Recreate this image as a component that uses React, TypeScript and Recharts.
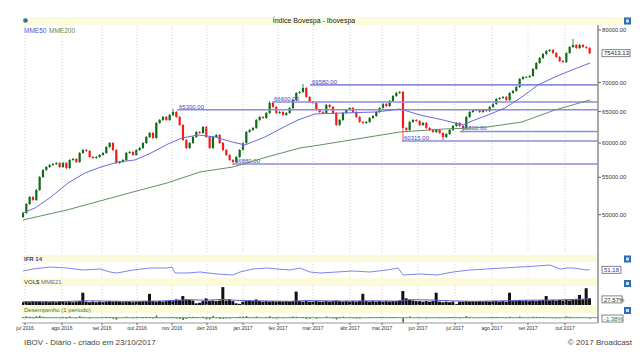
import React from "react";
import {
  ComposedChart,
  Bar,
  Line,
  XAxis,
  YAxis,
  ReferenceLine,
} from "recharts";

// candle closes, roughly two trading days per candle (jul 2016 -> 23/10/2017)
const firstOpen = 49700;
const closes = [
  50221, 51383, 52307, 51909, 53247, 55037, 56026, 56455, 56743, 56887,
  57032, 56455, 57032, 56311, 57470, 57616, 57178, 58504, 58952, 58802,
  57910, 57763, 57910, 58206, 58504, 59403, 60010, 58952, 57032, 57178,
  57470, 58504, 58653, 58206, 58952, 59252, 60010, 60935, 61558, 60780,
  63146, 63630, 64118, 63630, 64445, 64938, 64118, 62825, 60471, 59252,
  60010, 60935, 61715, 61558, 62506, 60935, 59252, 60935, 61246, 60010,
  58952, 58206, 57470, 57178, 57910, 58952, 60010, 61715, 62030, 62347,
  63630, 64118, 63955, 64773, 66443, 65770, 64773, 64938, 64445, 64773,
  65603, 66952, 68155, 68329, 69028, 67466, 66612, 66443, 65269, 64938,
  64773, 66105, 65770, 64773, 62825, 63630, 64773, 65269, 65603, 64938,
  64118, 63307, 63146, 63307, 63955, 64281, 64938, 65603, 66274, 65937,
  66782, 67638, 68155, 68329, 62347, 62030, 63307, 63630, 63468, 62825,
  63146, 62347, 62030, 61715, 62030, 61558, 60935, 61402, 62030, 62665,
  63146, 62665, 62347, 64118, 64938, 65269, 65269, 64938, 65269, 65104,
  65770, 66274, 67123, 67294, 67466, 66952, 68155, 68503, 69204, 70626,
  70986, 70986, 71167, 72445, 73559, 74501, 75262, 75839, 76032, 75454,
  74690, 73934, 73746, 75454, 76614, 77005, 76420, 77005, 76614, 76420,
  75413.13,
];

// notable wicks
const lowIdx = [63, 114, 126, 132];
const lowVals = [56880, 60315, 60550, 61800];
const highIdx = [45, 74, 84, 165];
const highVals = [65300, 66600, 69580, 77990];

const volumes = [
  5, 6, 5, 7, 6, 6, 5, 6, 5, 6,
  5, 6, 6, 5, 6, 5, 6, 7, 22, 6,
  5, 6, 5, 6, 5, 6, 7, 6, 7, 6,
  5, 6, 6, 5, 6, 6, 7, 7, 20, 7,
  6, 7, 6, 7, 8, 9, 10, 9, 16, 10,
  9, 8, 3, 4, 7, 12, 7, 8, 7, 8,
  32, 8, 10, 7, 3, 2, 6, 7, 8, 7,
  10, 7, 6, 7, 6, 7, 6, 7, 6, 7,
  6, 7, 24, 7, 6, 7, 6, 6, 7, 6,
  6, 7, 6, 7, 8, 7, 6, 7, 6, 7,
  6, 7, 20, 7, 6, 7, 6, 7, 6, 7,
  6, 7, 7, 8, 25, 12, 9, 8, 7, 7,
  6, 7, 6, 7, 22, 6, 5, 6, 5, 6,
  2, 6, 6, 7, 6, 7, 6, 7, 6, 7,
  6, 7, 7, 6, 7, 6, 22, 7, 7, 8,
  7, 8, 7, 8, 7, 8, 9, 16, 8, 9,
  8, 9, 8, 9, 8, 9, 10, 18, 10, 30,
  12,
];

const ma50Idx = [0, 3.6, 8.4, 13.5, 18.6, 23.4, 28.5, 33.6, 38.4, 43.5, 47.7, 52.5, 57.6, 62.7, 66.6, 72.6, 77.7, 82.5, 87.6, 96, 106.2, 113.1, 116.1, 119.1, 126, 132, 134.7, 139.5, 144.6, 149.7, 154.5, 159.6, 164.7, 170.1];
const ma50Val = [50221, 50863, 52307, 54204, 55598, 56455, 57178, 57470, 58504, 59858, 60780, 61246, 60935, 60163, 59706, 60935, 62347, 63630, 64609, 64773, 64938, 65436, 64938, 64445, 63630, 62825, 63468, 64445, 65603, 67466, 69557, 70986, 72261, 73559];

const ma200Idx = [0, 13.2, 33, 43.2, 53.1, 63, 73.2, 83.1, 89.1, 113.1, 126.6, 134.7, 139.5, 149.7, 159.6, 170.1];
const ma200Val = [49334, 50605, 52976, 54204, 55740, 56455, 57910, 59252, 59706, 61715, 62189, 62347, 62506, 63307, 65269, 66952];

const ifrIdx = [0, 3, 8.1, 13.2, 18, 23.1, 26.1, 28.2, 33, 38.1, 43.2, 44.7, 45.6, 49.2, 53.1, 58.2, 63, 65.1, 69, 73.2, 76.2, 80.1, 83.1, 86.1, 89.1, 94.2, 99, 104.1, 109.2, 112.5, 114, 119.1, 124.2, 129, 134.1, 139.2, 144, 149.1, 154.2, 158.1, 161.1, 163.2, 165, 169.2, 170];
const ifrVal = [46, 54.7, 63.3, 59, 50.3, 54.7, 41.7, 37.3, 50.3, 59, 59, 63.3, 37.3, 37.3, 41.7, 33, 28.7, 41.7, 54.7, 59, 54.7, 50.3, 59, 41.7, 37.3, 41.7, 46, 41.7, 50.3, 59, 28.7, 33, 28.7, 41.7, 50.3, 54.7, 59, 63.3, 67.7, 72, 54.7, 59, 59, 50.3, 51.18];

const volMaIdx = [0, 10, 20, 30, 40, 45, 50, 55, 60, 65, 70, 80, 85, 95, 105, 112, 116, 122, 128, 135, 145, 150, 160, 170];
const volMaVal = [6, 6, 7.5, 6.5, 7, 8, 9.5, 8.5, 10, 8, 7.5, 6.5, 8, 7, 7.5, 7, 9.5, 9, 7.5, 6.5, 7.5, 8.5, 9, 11];

const levelValues = [65300, 66600, 69580, 56880, 60315, 61800];
const levelStart = [46.2, 74.7, 86.1, 63, 113.7, 131];

const monthLabels = ["jul 2016", "ago 2016", "set 2016", "out 2016", "nov 2016", "dez 2016", "jan 2017", "fev 2017", "mar 2017", "abr 2017", "mai 2017", "jun 2017", "jul 2017", "ago 2017", "set 2017", "out 2017"];
const monthIdx = [0.6, 11.7, 23.7, 34.2, 44.7, 55.2, 66, 76.5, 87, 98.1, 107.7, 118.5, 129.6, 140.7, 151.5, 162.6];

const priceTicks = [50000, 55000, 60000, 65000, 70000, 80000];
const lastIfr = 51.18;
const volBoxText = "27.57%";
const lastPerf = -1.38;

const FONT = "Liberation Sans, Arial, sans-serif";
const X_DOMAIN: [number, number] = [-0.3, 172.5];
const MARGIN = { top: 0, right: 0, bottom: 0, left: 22 };
const GRID = "#c8c8c8";

const candles = closes.map((c, i) => {
  const o = i === 0 ? firstOpen : closes[i - 1];
  const li = lowIdx.indexOf(i);
  const hi = highIdx.indexOf(i);
  const lo = Math.min(o, c, li >= 0 ? lowVals[li] : Infinity);
  const h = Math.max(o, c, hi >= 0 ? highVals[hi] : -Infinity);
  return { i, o, c, lo, hi: h, range: [lo, h], vol: volumes[i], perf: ((c - o) / o) * 100 };
});
const ma50 = ma50Idx.map((i, k) => ({ i, v: ma50Val[k] }));
const ma200 = ma200Idx.map((i, k) => ({ i, v: ma200Val[k] }));
const ifr = ifrIdx.map((i, k) => ({ i, v: ifrVal[k] }));
const volMa = volMaIdx.map((i, k) => ({ i, v: volMaVal[k] }));

const Candle = (props: any) => {
  const { x, y, width, height, payload } = props;
  if (x == null || y == null || !payload) return null;
  const { o, c, lo, hi } = payload;
  const up = c >= o;
  const color = up ? "#0d6b16" : "#f21c1c";
  const cx = x + width / 2;
  const span = Math.log(hi) - Math.log(lo);
  const py = (v: number) => (span > 0 ? y + (height * (Math.log(hi) - Math.log(v))) / span : y);
  const top = py(Math.max(o, c));
  const bot = py(Math.min(o, c));
  return (
    <g>
      <line x1={cx} x2={cx} y1={y - 1} y2={y + height + 1} stroke={color} strokeWidth={0.8} />
      <rect x={cx - 1.1} y={top} width={2.2} height={Math.max(bot - top, 0.8)} fill={color} />
    </g>
  );
};

const levelLabel = (text: string) => (p: any) => {
  const vb = p.viewBox || {};
  return (
    <text x={vb.x + 2} y={vb.y - 1.2} fontSize={6} fill="#4b4bb0" fontFamily={FONT}>
      {text}
    </text>
  );
};

const valueBox = (text: string, color: string, w: number) => (p: any) => {
  const vb = p.viewBox || {};
  const bx = vb.x + vb.width + 4;
  return (
    <g>
      <rect x={bx} y={vb.y - 3.5} width={w} height={7} fill="#fff" stroke="#666" strokeWidth={0.8} />
      <text x={bx + 2} y={vb.y + 2.1} fontSize={6} fill={color} fontFamily={FONT}>
        {text}
      </text>
    </g>
  );
};

const fmt2 = (v: number) => v.toFixed(2);
const monthFmt = (v: number) => monthLabels[monthIdx.indexOf(v)] ?? "";

const monthGrid = () =>
  monthIdx.map((m) => (
    <ReferenceLine key={`g${m}`} x={m} stroke={GRID} strokeDasharray="1 2" strokeWidth={0.8} />
  ));

const Panel: React.FC<{ top: number; height: number; children: React.ReactNode }> = ({ top, height, children }) => (
  <div style={{ position: "absolute", left: 0, top, width: 640, height }}>{children}</div>
);

const Backdrop = () => (
  <svg width={640} height={361} style={{ position: "absolute", left: 0, top: 0 }} fontFamily={FONT}>
    <rect x={0} y={0} width={640} height={361} fill="#fff" />
    <rect x={22} y={17} width={611} height={8} fill="#fbfbdc" />
    <circle cx={25.5} cy={20.5} r={2.3} fill="#2f6db5" />
    <text x={314} y={23.4} fontSize={7} fill="#222" textAnchor="middle">Índice Bovespa - Ibovespa</text>
    <rect x={624} y={17.5} width={7} height={7} fill="#2f6db5" />
    <rect x={626} y={19.5} width={3} height={3} fill="#cfe0f5" />
    <text x={24} y={33} fontSize={6.5} fill="#5555c8">MME50</text>
    <text x={49} y={33} fontSize={6.5} fill="#5a8a5a">MME200</text>

    <rect x={22} y={255} width={576} height={7} fill="#fbfbdc" />
    <text x={24} y={260.7} fontSize={6} fill="#3434c0" fontWeight="bold">IFR 14</text>
    <rect x={624} y={255.5} width={7} height={7} fill="#2f6db5" />
    <rect x={626} y={257.5} width={3} height={3} fill="#cfe0f5" />

    <rect x={22} y={278} width={576} height={8} fill="#fbfbdc" />
    <text x={24} y={284} fontSize={6} fill="#333">VOL$</text>
    <text x={41} y={284} fontSize={6} fill="#6a6aa0">MME21</text>
    <rect x={624} y={280} width={7} height={7} fill="#2f6db5" />
    <rect x={626} y={282} width={3} height={3} fill="#cfe0f5" />

    <rect x={22} y={306} width={576} height={7} fill="#fbfbdc" />
    <text x={24} y={311.7} fontSize={6} fill="#2e7d2e">Desempenho (1 período)</text>
    <rect x={624} y={307} width={7} height={7} fill="#2f6db5" />
    <rect x={626} y={309} width={3} height={3} fill="#cfe0f5" />

    <line x1={598} x2={598} y1={25} y2={323} stroke="#a9a9a9" strokeWidth={2} />

    <text x={24} y={344.5} fontSize={8} fill="#444">IBOV - Diário - criado em 23/10/2017</text>
    <text x={632} y={344.5} fontSize={8} fill="#444" textAnchor="end">© 2017 Broadcast</text>
  </svg>
);

export default function App() {
  return (
    <div style={{ position: "absolute", left: 0, top: 0, width: 640, height: 361, background: "#fff", overflow: "hidden" }}>
      <Backdrop />

      <Panel top={25} height={227}>
        <ComposedChart width={640} height={227} data={candles} margin={MARGIN}>
          <XAxis dataKey="i" type="number" domain={X_DOMAIN} ticks={monthIdx} allowDataOverflow hide />
          <YAxis
            orientation="right"
            width={42}
            scale="log"
            domain={[45472, 81024]}
            allowDataOverflow
            ticks={priceTicks}
            tickFormatter={fmt2}
            axisLine={false}
            tickSize={3}
            tickMargin={1}
            tickLine={{ stroke: "#666" }}
            tick={{ fontSize: 5.8, fill: "#333", fontFamily: FONT }}
          />
          {monthGrid()}
          {levelValues.map((v, k) => (
            <ReferenceLine
              key={k}
              segment={[{ x: levelStart[k], y: v }, { x: X_DOMAIN[1], y: v }]}
              stroke="#8c8ce0"
              strokeWidth={1.6}
              label={levelLabel(fmt2(v))}
            />
          ))}
          <Line data={ma200} dataKey="v" stroke="#5f9160" strokeWidth={1} dot={false} isAnimationActive={false} />
          <Line data={ma50} dataKey="v" stroke="#6a6ad8" strokeWidth={1} dot={false} isAnimationActive={false} />
          <Bar dataKey="range" barSize={3} shape={<Candle />} isAnimationActive={false} />
          <ReferenceLine y={closes[closes.length - 1]} strokeOpacity={0} label={valueBox("75413.13", "#222", 28)} />
        </ComposedChart>
      </Panel>

      <Panel top={262} height={15}>
        <ComposedChart width={640} height={15} data={ifr} margin={MARGIN}>
          <XAxis dataKey="i" type="number" domain={X_DOMAIN} ticks={monthIdx} allowDataOverflow hide />
          <YAxis
            orientation="right"
            width={42}
            domain={[20, 85]}
            ticks={[70]}
            tickFormatter={fmt2}
            axisLine={false}
            tickSize={3}
            tickMargin={1}
            tickLine={{ stroke: "#666" }}
            tick={{ fontSize: 5.8, fill: "#333", fontFamily: FONT }}
          />
          {monthGrid()}
          <Line dataKey="v" stroke="#8282f0" strokeWidth={1} dot={false} isAnimationActive={false} />
          <ReferenceLine y={lastIfr} strokeOpacity={0} label={valueBox(fmt2(lastIfr), "#3434c0", 19)} />
        </ComposedChart>
      </Panel>

      <Panel top={286} height={19}>
        <ComposedChart width={640} height={19} data={candles} margin={MARGIN}>
          <XAxis dataKey="i" type="number" domain={X_DOMAIN} ticks={monthIdx} allowDataOverflow hide />
          <YAxis
            orientation="right"
            width={42}
            domain={[0, 34]}
            allowDataOverflow
            ticks={[20]}
            tickFormatter={fmt2}
            axisLine={false}
            tickSize={3}
            tickMargin={1}
            tickLine={{ stroke: "#666" }}
            tick={{ fontSize: 5.8, fill: "#333", fontFamily: FONT }}
          />
          {monthGrid()}
          <Bar dataKey="vol" barSize={3.6} fill="#111" isAnimationActive={false} />
          <Line data={volMa} dataKey="v" stroke="#5b5bd0" strokeWidth={1} dot={false} isAnimationActive={false} />
          <ReferenceLine y={10} strokeOpacity={0} label={valueBox(volBoxText, "#333", 20)} />
        </ComposedChart>
      </Panel>

      <Panel top={313} height={24}>
        <ComposedChart width={640} height={24} data={candles} margin={MARGIN}>
          <XAxis
            dataKey="i"
            type="number"
            domain={X_DOMAIN}
            ticks={monthIdx}
            allowDataOverflow
            height={14}
            tickFormatter={monthFmt}
            axisLine={{ stroke: "#999" }}
            tickLine={{ stroke: "#666" }}
            tickSize={2}
            tickMargin={1}
            interval={0}
            tick={{ fontSize: 5, fill: "#333", fontFamily: FONT }}
          />
          <YAxis orientation="right" width={42} domain={[-9, 8]} ticks={[]} axisLine={false} tickLine={false} />
          {monthGrid()}
          <ReferenceLine y={0} stroke="#3e8e3e" strokeWidth={0.8} />
          <Bar dataKey="perf" barSize={1.6} fill="#2f7f2f" isAnimationActive={false} />
          <ReferenceLine y={lastPerf} strokeOpacity={0} label={valueBox("-1.38%", "#2e6e5e", 21)} />
        </ComposedChart>
      </Panel>
    </div>
  );
}
